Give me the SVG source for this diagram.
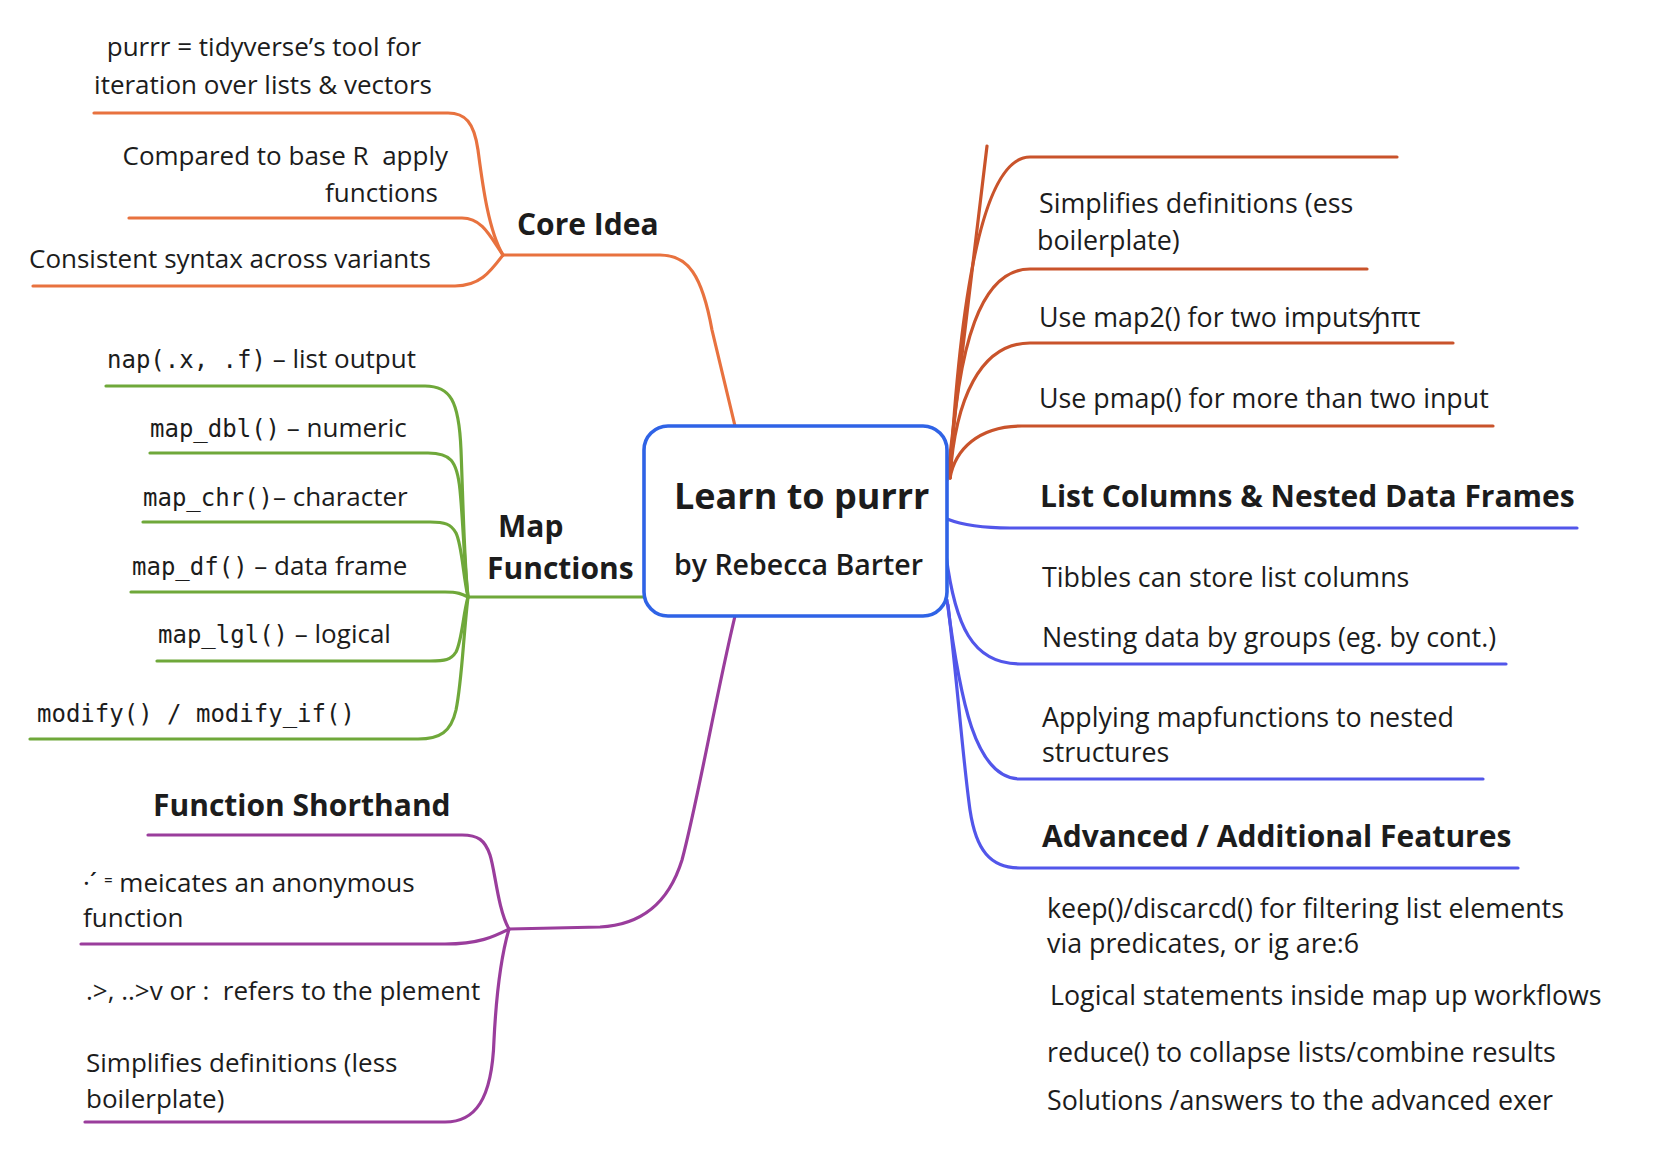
<svg xmlns="http://www.w3.org/2000/svg" width="1678" height="1152" viewBox="0 0 1678 1152">
<style>
.t{font-family:"Open Sans","Noto Sans","Liberation Sans",sans-serif;font-size:26px;fill:#1c1c1c}
.r{font-size:26.8px}
.m{font-family:"DejaVu Sans Mono","Liberation Mono",monospace;font-size:24px}
.b{font-weight:700;font-size:30px}
.pre{white-space:pre}
.c{fill:none;stroke-width:3.2;stroke-linecap:round;stroke-linejoin:round}
.or{stroke:#e8723f}
.or2{stroke:#c9532b}
.gr{stroke:#6fa83a}
.pu{stroke:#9a3d9c}
.bl{stroke:#5256ea}
</style>
<rect width="1678" height="1152" fill="#ffffff"/>
<g id="connectors">
  <path class="c or" d="M503 255 L660 255 C688 255 702 275 712 330 L735 426"/>
  <path class="c or" d="M503 255 C488 230 482 180 478 150 C474 122 465 113 448 113 L94 113"/>
  <path class="c or" d="M503 255 C490 236 482 218 462 218 L129 218"/>
  <path class="c or" d="M503 255 C490 272 480 286 455 286 L33 286"/>
  <path class="c gr" d="M644 597 L468 597"/>
  <path class="c gr" d="M468 597 C464 560 463 500 461 450 C459 400 450 386 425 386 L106 386"/>
  <path class="c gr" d="M468 597 C464 560 463 520 460 490 C457 460 450 453 428 453 L150 453"/>
  <path class="c gr" d="M468 597 C463 575 462 545 456 533 C451 524 445 522 430 522 L143 522"/>
  <path class="c gr" d="M468 597 C462 594 458 592 445 592 L131 592"/>
  <path class="c gr" d="M468 597 C463 615 462 640 456 652 C451 660 445 661 430 661 L157 661"/>
  <path class="c gr" d="M468 597 C463 640 462 680 456 710 C451 732 440 739 418 739 L30 739"/>
  <path class="c pu" d="M735 616 C715 700 698 800 682 860 C668 905 640 925 600 927 L509 929"/>
  <path class="c pu" d="M509 929 C498 910 495 870 490 855 C485 840 478 835 462 835 L148 835"/>
  <path class="c pu" d="M509 929 C495 936 480 944 445 944 L81 944"/>
  <path class="c pu" d="M509 929 C500 960 496 1000 494 1040 C492 1100 475 1122 445 1122 L85 1122"/>
  <path class="c or2" d="M947 480 L987 146"/>
  <path class="c or2" d="M950 478 C960 300 982 157 1030 157 L1397 157"/>
  <path class="c or2" d="M950 478 C957 340 982 269 1030 269 L1367 269"/>
  <path class="c or2" d="M950 478 C955 400 980 343 1030 343 L1453 343"/>
  <path class="c or2" d="M950 478 C955 450 978 426 1022 426 L1493 426"/>
  <path class="c bl" d="M947 519 C965 526 985 528 1010 528 L1577 528"/>
  <path class="c bl" d="M946 555 C955 625 972 664 1020 664 L1506 664"/>
  <path class="c bl" d="M947 600 C960 700 975 779 1020 779 L1483 779"/>
  <path class="c bl" d="M948 605 C958 690 963 760 970 810 C976 850 990 868 1020 868 L1518 868"/>
</g>
<g id="center">
  <rect x="644" y="426" width="303" height="190" rx="24" ry="24" fill="#ffffff" stroke="#2f63e6" stroke-width="3.6"/>
  <text class="t" x="674" y="509" style="font-size:36px;font-weight:700">Learn to purrr</text>
  <text class="t" x="674" y="575" style="font-size:28.5px;font-weight:600">by Rebecca Barter</text>
</g>
<g id="core-idea">
  <text class="t b" x="517" y="235">Core Idea</text>
</g>
<g id="core-1">
  <text class="t" x="264" y="56" text-anchor="middle">purrr = tidyverse’s tool for</text>
  <text class="t" x="263" y="94" text-anchor="middle">iteration over lists &amp; vectors</text>
</g>
<g id="core-2">
  <text class="t pre" x="448" y="165" text-anchor="end">Compared to base R  apply</text>
  <text class="t" x="438" y="202" text-anchor="end">functions</text>
</g>
<g id="core-3">
  <text class="t" x="29" y="268">Consistent syntax across variants</text>
</g>
<g id="map-functions">
  <text class="t b" x="498" y="537">Map</text>
  <text class="t b" x="487" y="579">Functions</text>
</g>
<g id="map-1"><text class="t" x="107" y="368"><tspan class="m">nap(.x, .f)</tspan> – list output</text></g>
<g id="map-2"><text class="t" x="150" y="437"><tspan class="m">map_dbl()</tspan> – numeric</text></g>
<g id="map-3"><text class="t" x="143" y="506"><tspan class="m">map_chr()</tspan>– character</text></g>
<g id="map-4"><text class="t" x="132" y="575"><tspan class="m">map_df()</tspan> – data frame</text></g>
<g id="map-5"><text class="t" x="158" y="643"><tspan class="m">map_lgl()</tspan> – logical</text></g>
<g id="map-6"><text class="t m" x="37" y="722">modify() / modify_if()</text></g>
<g id="function-shorthand">
  <text class="t b" x="153" y="816">Function Shorthand</text>
</g>
<g id="fs-1">
  <text class="t" x="83" y="892">·ˊ ⁼ meicates an anonymous</text>
  <text class="t" x="83" y="927">function</text>
</g>
<g id="fs-2">
  <text class="t pre" x="86" y="1000">.&gt;, ..&gt;v or :  refers to the plement</text>
</g>
<g id="fs-3">
  <text class="t" x="86" y="1072">Simplifies definitions (less</text>
  <text class="t" x="86" y="1108">boilerplate)</text>
</g>
<g id="ro-1">
  <text class="t r" x="1039" y="213">Simplifies definitions (ess</text>
  <text class="t r" x="1037" y="250">boilerplate)</text>
</g>
<g id="ro-2"><text class="t r" x="1039" y="327">Use map2() for two imputs⁄ɲπτ</text></g>
<g id="ro-3"><text class="t r" x="1039" y="408">Use pmap() for more than two input</text></g>
<g id="list-columns">
  <text class="t b" x="1040" y="507">List Columns &amp; Nested Data Frames</text>
</g>
<g id="lc-1"><text class="t r" x="1042" y="587">Tibbles can store list columns</text></g>
<g id="lc-2"><text class="t r" x="1042" y="647">Nesting data by groups (eg. by cont.)</text></g>
<g id="lc-3">
  <text class="t r" x="1042" y="727">Applying mapfunctions to nested</text>
  <text class="t r" x="1042" y="762">structures</text>
</g>
<g id="advanced">
  <text class="t b" x="1042" y="847">Advanced / Additional Features</text>
</g>
<g id="adv-1">
  <text class="t r" x="1047" y="918">keep()/discarcd() for filtering list elements</text>
  <text class="t r" x="1047" y="953">via predicates, or ig are:6</text>
</g>
<g id="adv-2"><text class="t r" x="1050" y="1005">Logical statements inside map up workflows</text></g>
<g id="adv-3"><text class="t r" x="1047" y="1062">reduce() to collapse lists/combine results</text></g>
<g id="adv-4"><text class="t r" x="1047" y="1110">Solutions /answers to the advanced exer</text></g>
</svg>
